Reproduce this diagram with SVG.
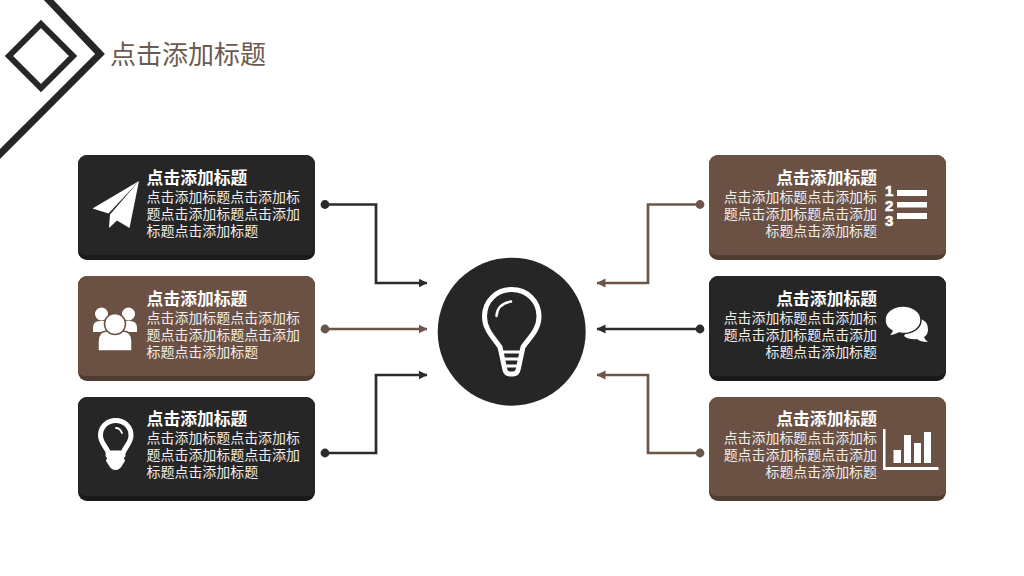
<svg xmlns="http://www.w3.org/2000/svg" width="1024" height="576" viewBox="0 0 1024 576">
<style>
text{font-family:"Noto Sans CJK SC","Noto Sans",sans-serif;fill:#f1eeec;font-size:13.95px;font-weight:400}
.h{font-size:16.8px;font-weight:700;fill:#fff}
.e{text-anchor:end}
.n{font-family:"Liberation Sans",sans-serif;font-size:15px;font-weight:700;fill:#fff;stroke:#fff;stroke-width:.6}
.d{fill:#262626}.ds{fill:#1a1a1a}
.m{fill:#6b5143}.ms{fill:#503c31}
.w{fill:#fff}
.o{fill:none;stroke:#fff}
.cd,.cm{fill:none;stroke-width:2.7}
.cd{stroke:#2b2b2b}.cm{stroke:#6b5648}
</style>
<defs>
<marker id="ad" markerUnits="userSpaceOnUse" markerWidth="10" markerHeight="10" refX="8.500" refY="4.500" orient="auto"><path d="M0 0L9 4.500L0 9Z" fill="#2b2b2b"/></marker>
<marker id="am" markerUnits="userSpaceOnUse" markerWidth="10" markerHeight="10" refX="8.500" refY="4.500" orient="auto"><path d="M0 0L9 4.500L0 9Z" fill="#6b5648"/></marker>
<marker id="sd" markerUnits="userSpaceOnUse" markerWidth="10" markerHeight="10" refX="5" refY="5"><circle cx="5" cy="5" r="4.400" fill="#2b2b2b"/></marker>
<marker id="sm" markerUnits="userSpaceOnUse" markerWidth="10" markerHeight="10" refX="5" refY="5"><circle cx="5" cy="5" r="4.400" fill="#6b5648"/></marker>
</defs>

<g id="corner" fill="none" stroke="#262626">
<path d="M43-6L100 54L-6 160" stroke-width="7"/>
<path d="M41 24L73 56L41 88L9 56Z" stroke-width="6"/>
</g>
<text id="page-title" x="110" y="64" style="font-size:26px;fill:#6b5a50">点击添加标题</text>

<g id="connectors">
<path class="cd" d="M325 204.500H376V283H427" marker-start="url(#sd)" marker-end="url(#ad)"/>
<path class="cm" d="M325 329H427" marker-start="url(#sm)" marker-end="url(#am)"/>
<path class="cd" d="M325 453H376V375H427" marker-start="url(#sd)" marker-end="url(#ad)"/>
<path class="cm" d="M700 204.500H648V283H597" marker-start="url(#sm)" marker-end="url(#am)"/>
<path class="cd" d="M700 329H597" marker-start="url(#sd)" marker-end="url(#ad)"/>
<path class="cm" d="M700 453H648V375H597" marker-start="url(#sm)" marker-end="url(#am)"/>
</g>

<g id="hub">
<circle cx="511.700" cy="331.700" r="74" fill="#262626"/>
<path class="o" stroke-width="5" stroke-linejoin="round" d="M500 347C494 338 484.500 330 484.500 316.500C484.500 301 496.500 289.500 511.700 289.500C527 289.500 539 301 539 316.500C539 330 529 338 523 347L518 370Q517 374 513 374H510Q506 374 505 370Z"/>
<path class="o" stroke-width="2.500" stroke-linecap="round" d="M496.500 316C497 308 502 303 511 301.500"/>
<path class="o" stroke-width="3" d="M501 352H522.500M503 359H521M505 366H519"/>
</g>

<g id="node-l1">
<rect class="ds" x="78" y="155" width="237" height="105" rx="9"/>
<path class="d" d="M87 155H306a9 9 0 0 1 9 9V248a7 7 0 0 1-7 7H85a7 7 0 0 1-7-7V164a9 9 0 0 1 9-9Z"/>
<path class="w" d="M139 181L92.500 208.500L108.500 213.500ZM139 181L110 214.500L109 228L117 220.500L129.500 228Z"/>
<text x="146.600" y="184"><tspan class="h">点击添加标题</tspan><tspan x="146.600" y="202">点击添加标题点击添加标</tspan><tspan x="146.600" y="219">题点击添加标题点击添加</tspan><tspan x="146.600" y="236">标题点击添加标题</tspan></text>
</g>

<g id="node-l2">
<rect class="ms" x="78" y="276" width="237" height="105" rx="9"/>
<path class="m" d="M87 276H306a9 9 0 0 1 9 9V369a7 7 0 0 1-7 7H85a7 7 0 0 1-7-7V285a9 9 0 0 1 9-9Z"/>
<circle class="w" cx="101.500" cy="314" r="6.500"/>
<circle class="w" cx="128.500" cy="314" r="6.500"/>
<path class="w" d="M93 332V328Q93 321 100 321H130Q137 321 137 328V332H93Z"/>
<path class="w" style="stroke:#6b5143;stroke-width:1.500" d="M98 351V341Q98 331 108 331H122Q132 331 132 341V351Z"/>
<circle class="w" style="stroke:#6b5143;stroke-width:1.500" cx="115" cy="324" r="10.500"/>
<text x="146.600" y="305"><tspan class="h">点击添加标题</tspan><tspan x="146.600" y="323">点击添加标题点击添加标</tspan><tspan x="146.600" y="340">题点击添加标题点击添加</tspan><tspan x="146.600" y="357">标题点击添加标题</tspan></text>
</g>

<g id="node-l3">
<rect class="ds" x="78" y="397" width="237" height="104" rx="9"/>
<path class="d" d="M87 397H306a9 9 0 0 1 9 9V489a7 7 0 0 1-7 7H85a7 7 0 0 1-7-7V406a9 9 0 0 1 9-9Z"/>
<path class="o" stroke-width="5" d="M108.500 453C106 446 100.500 443 100.500 435.500C100.500 427 107 420.500 115.700 420.500C124.500 420.500 131 427 131 435.500C131 443 125.500 446 123 453Z"/>
<path class="w" d="M106 451H125L125.500 456L124 458L125 461L123 464Q120 470 115.500 470Q111 470 108 464L106 461L107 458L105.500 456Z"/>
<path class="o" stroke-width="1.800" stroke-linecap="round" d="M116 428Q120 428 122 433"/>
<text x="146.600" y="425"><tspan class="h">点击添加标题</tspan><tspan x="146.600" y="443">点击添加标题点击添加标</tspan><tspan x="146.600" y="460">题点击添加标题点击添加</tspan><tspan x="146.600" y="477">标题点击添加标题</tspan></text>
</g>

<g id="node-r1">
<rect class="ms" x="709" y="155" width="237" height="105" rx="9"/>
<path class="m" d="M718 155H937a9 9 0 0 1 9 9V248a7 7 0 0 1-7 7H716a7 7 0 0 1-7-7V164a9 9 0 0 1 9-9Z"/>
<text class="e" x="877" y="184"><tspan class="h">点击添加标题</tspan><tspan x="877" y="202">点击添加标题点击添加标</tspan><tspan x="877" y="219">题点击添加标题点击添加</tspan><tspan x="877" y="236">标题点击添加标题</tspan></text>
<text class="n" x="885" y="196">1</text>
<text class="n" x="885" y="210.500">2</text>
<text class="n" x="885" y="226">3</text>
<path class="w" d="M897 190H927V196H897ZM897 202H927V207.500H897ZM897 213H927V219H897Z"/>
</g>

<g id="node-r2">
<rect class="ds" x="709" y="276" width="237" height="105" rx="9"/>
<path class="d" d="M718 276H937a9 9 0 0 1 9 9V369a7 7 0 0 1-7 7H716a7 7 0 0 1-7-7V285a9 9 0 0 1 9-9Z"/>
<path class="w" d="M916 317Q928 320 928 329Q928 335 924 337Q925 340 928 342Q920 342 917 339Q909 340 904 336Z"/>
<path class="w" style="stroke:#262626;stroke-width:1.500" d="M903 306C893 306 885 312 885 320C885 325 888 329 892 331Q891 334 887 336Q894 336 899 333Q901 333.500 903 333.500C913 333.500 921 328 921 320C921 312 913 306 903 306Z"/>
<text class="e" x="877" y="305"><tspan class="h">点击添加标题</tspan><tspan x="877" y="323">点击添加标题点击添加标</tspan><tspan x="877" y="340">题点击添加标题点击添加</tspan><tspan x="877" y="357">标题点击添加标题</tspan></text>
</g>

<g id="node-r3">
<rect class="ms" x="709" y="397" width="237" height="104" rx="9"/>
<path class="m" d="M718 397H937a9 9 0 0 1 9 9V489a7 7 0 0 1-7 7H716a7 7 0 0 1-7-7V406a9 9 0 0 1 9-9Z"/>
<path class="w" d="M883 429H885.500V467H938.500V470H883ZM893.500 450H901V463H893.500ZM904 435H911V463H904ZM914 443H921V463H914ZM924 432H931V463H924Z"/>
<text class="e" x="877" y="425"><tspan class="h">点击添加标题</tspan><tspan x="877" y="443">点击添加标题点击添加标</tspan><tspan x="877" y="460">题点击添加标题点击添加</tspan><tspan x="877" y="477">标题点击添加标题</tspan></text>
</g>
</svg>
